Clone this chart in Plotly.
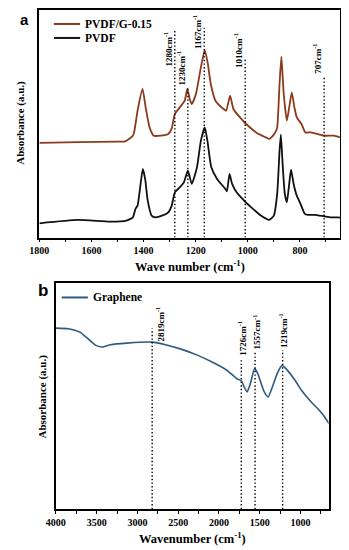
import plotly.graph_objects as go

# ---------------- data (panel a) ----------------
pvdf_wn = [1800, 1653, 1529, 1466, 1441, 1431, 1423, 1413, 1403, 1394, 1384, 1369, 1354, 1329, 1305,
           1292, 1280, 1261, 1245, 1230, 1215, 1195, 1180, 1165, 1155, 1140, 1118, 1086, 1080, 1070,
           1060, 1043, 1014, 980, 950, 918, 900, 887, 878, 873, 867, 858, 850, 841, 834, 824, 812,
           800, 781, 769, 744, 707, 681, 656, 645]
pvdf_abs = [14.3, 17.7, 16, 17, 20.3, 28.7, 32, 50.3, 68.7, 58.7, 37, 22, 20.3, 22, 25.3,
            32, 45.3, 50.3, 55.3, 67, 53.7, 70.3, 97, 110.3, 97, 70.3, 58.7, 48.7, 46.3, 63.7,
            53.7, 45.3, 37, 28.7, 22, 17.7, 22, 44, 87, 103, 77, 44, 35.3, 53.7, 68, 53.7, 42,
            35.3, 23.7, 22.7, 22.7, 21.3, 20.3, 20.3, 20]

pvdfg_wn = [1800, 1650, 1500, 1470, 1441, 1435, 1423, 1404, 1392, 1377, 1361, 1335, 1305, 1292, 1280,
            1261, 1242, 1232, 1223, 1215, 1199, 1180, 1165, 1153, 1142, 1124, 1093, 1083, 1068, 1055,
            1030, 1006, 968, 931, 918, 900, 893, 887, 878, 871, 862, 850, 841, 831, 821, 812, 794,
            779, 757, 707, 669, 647]
pvdfg_abs = [94.7, 95.5, 96, 96.3, 102, 107, 127, 148.7, 130.3, 110.3, 102, 102, 103.7, 109, 123.7,
             130.3, 137, 148.7, 138.7, 133.7, 143.7, 170.3, 187.7, 173.7, 153.7, 137, 128.7, 127, 142, 128.7,
             120.3, 113.7, 105.3, 100.3, 98.7, 103, 106, 110.3, 153.7, 181, 143.7, 117, 130.3, 145.3, 130.3, 120.3, 113.7,
             105.3, 105.3, 102, 102, 100.3]

peaks_a = [1280, 1230, 1167, 1010, 707]
peak_labels_a = ["1280cm<sup>-1</sup>", "1230cm<sup>-1</sup>", "1167cm<sup>-1</sup>",
                 "1010cm<sup>-1</sup>", "707cm<sup>-1</sup>"]
xticks_a = [1800, 1600, 1400, 1200, 1000, 800]

# ---------------- data (panel b) ----------------
gr_wn = [4000, 3845, 3706, 3607, 3508, 3429, 3329, 3131, 2821, 2655, 2456, 2258, 2060, 1901, 1782,
         1723, 1694, 1655, 1615, 1563, 1524, 1444, 1397, 1345, 1286, 1226, 1167, 1067, 988, 869,
         789, 710, 651]
gr_abs = [181.3, 180.7, 177.3, 170.7, 164, 162.3, 164.7, 166.3, 167.3, 164.7, 160, 154, 146.3, 139, 130.7,
          128.3, 123, 117.3, 125.7, 140.7, 135.7, 117.3, 112.3, 122.3, 135.7, 144, 139.7, 129, 119, 107.3,
          100.7, 93, 85.7]

peaks_b = [2819, 1726, 1557, 1219]
peak_labels_b = ["2819cm<sup>-1</sup>", "1726cm<sup>-1</sup>", "1557cm<sup>-1</sup>", "1219cm<sup>-1</sup>"]
xticks_b = [4000, 3500, 3000, 2500, 2000, 1500, 1000]

# ---------------- layout helpers (positions / styles) ----------------
OFF = 8                      # default page margin of the html body
W, H = 349 - OFF, 550 - OFF
SERIF = "Liberation Serif"
BROWN = "#8c3a1c"
BLUE = "#2c5a80"

def px(x):
    return min(max((x - OFF) / W, 0), 1)

def py(y):
    return min(max(1 - (y - OFF) / H, 0), 1)

# label placement for the dotted markers (line top, label centre, x-shift)
a_line_top = [207, 150, 210, 180, 162]
a_label_y = [189, 170, 206, 187, 179]
b_line_top = [181, 149, 157, 159]
b_label_y = [185, 171, 177, 179]
b_label_shift = [8, 1, 2, 1]

fig = go.Figure()
fig.add_trace(go.Scatter(x=pvdfg_wn, y=pvdfg_abs, mode="lines", name="PVDF/G-0.15",
                         line=dict(color=BROWN, width=1.8, shape="spline", smoothing=0.5),
                         xaxis="x", yaxis="y", showlegend=False))
fig.add_trace(go.Scatter(x=pvdf_wn, y=pvdf_abs, mode="lines", name="PVDF",
                         line=dict(color="#111111", width=1.8, shape="spline", smoothing=0.5),
                         xaxis="x", yaxis="y", showlegend=False))
fig.add_trace(go.Scatter(x=gr_wn, y=gr_abs, mode="lines", name="Graphene",
                         line=dict(color=BLUE, width=1.6, shape="spline", smoothing=0.5),
                         xaxis="x2", yaxis="y2", showlegend=False))

tickfont = dict(family=SERIF, size=10, color="black", weight="bold")
axis_common = dict(showline=True, linecolor="black", linewidth=1.5, mirror=True,
                   showgrid=False, zeroline=False, ticks="outside", ticklen=3,
                   tickwidth=1, tickcolor="black", tickfont=tickfont)
yaxis_common = {k: v for k, v in axis_common.items() if k != "ticks"}

shapes = []
annotations = []

for wn, lab, top, ly in zip(peaks_a, peak_labels_a, a_line_top, a_label_y):
    shapes.append(dict(type="line", xref="x", yref="y", x0=wn, x1=wn, y0=0, y1=top,
                       line=dict(color="black", width=1.4, dash="1.4px,2.2px")))
    annotations.append(dict(xref="x", yref="y", x=wn, y=ly, text=lab, textangle=-90,
                            showarrow=False, xshift=-7,
                            font=dict(family=SERIF, size=9, color="black", weight="bold")))

for wn, lab, top, ly, sh in zip(peaks_b, peak_labels_b, b_line_top, b_label_y, b_label_shift):
    shapes.append(dict(type="line", xref="x2", yref="y2", x0=wn, x1=wn, y0=0, y1=top,
                       line=dict(color="black", width=1.4, dash="1.4px,2.2px")))
    annotations.append(dict(xref="x2", yref="y2", x=wn, y=ly, text=lab, textangle=-90,
                            showarrow=False, xshift=sh,
                            font=dict(family=SERIF, size=9, color="black", weight="bold")))

# manual legends
legend_items = [("PVDF/G-0.15", BROWN, 45, 72, 23), ("PVDF", "#111111", 45, 72, 37),
                ("Graphene", BLUE, 53, 80, 297)]
for text, col, xa, xb, yy in legend_items:
    shapes.append(dict(type="line", xref="paper", yref="paper", x0=px(xa), x1=px(xb),
                       y0=py(yy), y1=py(yy), line=dict(color=col, width=2)))
    annotations.append(dict(xref="paper", yref="paper", x=px(xb + 3), y=py(yy), text=text,
                            xanchor="left", yanchor="middle", showarrow=False,
                            font=dict(family=SERIF, size=11.5, color="black", weight="bold")))

# axis titles and panel letters
titles = [
    ("Wave number (cm<sup>-1</sup>)", 185, 265, 0, 12.5),
    ("Wavenumber (cm<sup>-1</sup>)", 188, 538, 0, 12.5),
    ("Absorbance (a.u.)", 11, 122, -90, 11),
    ("Absorbance (a.u.)", 33, 396, -90, 11),
]
for text, x, y, ang, size in titles:
    annotations.append(dict(xref="paper", yref="paper", x=px(x), y=py(y), text=text,
                            textangle=ang, showarrow=False, xanchor="center", yanchor="middle",
                            font=dict(family=SERIF, size=size, color="black", weight="bold")))
annotations.append(dict(xref="paper", yref="paper", x=px(15), y=py(8.2), text="a",
                        showarrow=False, xanchor="center", yanchor="top",
                        font=dict(family="Liberation Sans", size=15, color="black", weight="bold")))
annotations.append(dict(xref="paper", yref="paper", x=px(34), y=py(290), text="b",
                        showarrow=False, xanchor="center", yanchor="middle",
                        font=dict(family="Liberation Sans", size=17, color="black", weight="bold")))

fig.update_layout(
    width=W, height=H,
    margin=dict(l=0, r=0, t=0, b=0),
    paper_bgcolor="white", plot_bgcolor="white",
    showlegend=False,
    xaxis=dict(domain=[px(30), px(340)], range=[1800, 645], anchor="y",
               tickvals=xticks_a, minor=dict(dtick=100, tick0=0, ticks="outside", ticklen=3,
                                             tickcolor="black"),
               **axis_common),
    yaxis=dict(domain=[py(237), py(8.8)], range=[0, 228], anchor="x",
               showticklabels=False, ticks="", **yaxis_common),
    xaxis2=dict(domain=[px(47), px(328)], range=[4000, 655], anchor="y2",
                tickvals=xticks_b, minor=dict(dtick=250, tick0=0, ticks="outside", ticklen=3,
                                              tickcolor="black"),
                **axis_common),
    yaxis2=dict(domain=[py(509), py(283)], range=[0, 226], anchor="x2",
                showticklabels=False, ticks="", **yaxis_common),
    shapes=shapes,
    annotations=annotations,
)

fig.write_html("out.html")
